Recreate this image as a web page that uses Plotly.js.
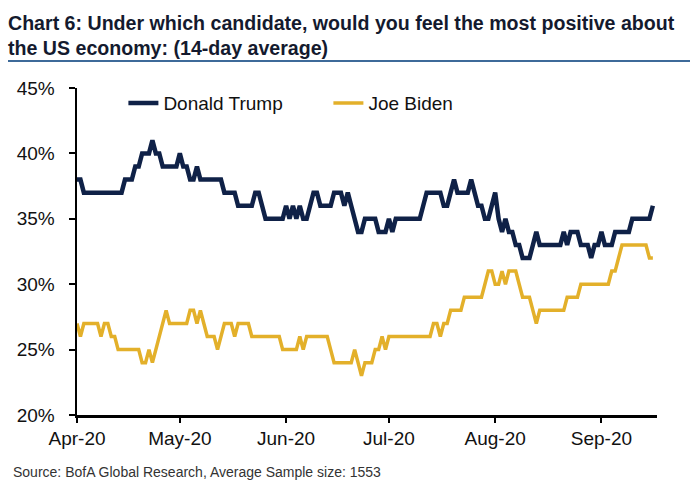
<!DOCTYPE html>
<html>
<head>
<meta charset="utf-8">
<script src="https://cdn.plot.ly/plotly-3.0.1.min.js"></script>
<style>html,body{margin:0;padding:0;background:#fff;}#chart{width:700px;height:492px;}</style>
</head>
<body>
<div id="chart"></div>
<script>
// Daily series, starting 1 April 2020 (14-day average, %)
const startDate = '2020-04-01';
const trumpValues = [38,38,37,37,37,37,37,37,37,37,37,37,37,37,
  38,38,38,39,39,40,40,40,41,40,40,
  39,39,39,39,39,40,39,39,38,38,39,
  38,38,38,38,38,38,38,37,37,37,37,
  36,36,36,36,36,37,37,36,35,35,35,35,35,35,
  36,35,36,35,36,35,35,36,37,37,
  36,36,36,36,37,37,37,36,37,36,
  35,34,34,35,35,35,35,34,34,34,
  35,34,35,35,35,35,35,35,35,35,
  36,37,37,37,37,37,36,36,37,38,
  37,37,37,37,38,37,36,36,35,35,
  36,37,35,34,35,34,34,33,33,32,
  32,32,33,34,33,33,33,33,33,33,
  33,34,33,34,34,34,33,33,33,32,
  33,33,34,33,33,33,34,34,34,34,
  34,35,35,35,35,35,35,36];
const bidenValues = [27,26,27,27,27,27,27,26,27,27,
  26,26,25,25,25,25,25,25,25,24,
  24,25,24,25,26,27,28,27,27,27,
  27,27,27,28,28,27,28,27,26,26,
  26,25,26,27,27,27,26,27,27,27,
  27,26,26,26,26,26,26,26,26,26,
  25,25,25,25,25,26,25,26,26,26,
  26,26,26,26,25,24,24,24,24,24,
  24,25,24,23,24,24,24,25,25,26,
  25,26,26,26,26,26,26,26,26,26,
  26,26,26,26,27,27,26,27,27,28,
  28,28,28,29,29,29,29,29,29,30,
  31,31,30,30,31,30,31,31,31,30,
  29,29,29,28,27,28,28,28,28,28,
  28,28,28,29,29,29,29,30,30,30,
  30,30,30,30,30,30,31,31,32,33,
  33,33,33,33,33,33,33,32,32];
const seriesNames = ['Donald Trump', 'Joe Biden'];
const yTickValues = [20, 25, 30, 35, 40, 45];
const yTickLabels = ['20%', '25%', '30%', '35%', '40%', '45%'];

function dayList(start, n) {
  const out = [];
  const d0 = new Date(start + 'T00:00:00Z');
  for (let i = 0; i < n; i++) {
    const d = new Date(d0.getTime() + i * 86400000);
    out.push(d.toISOString().slice(0, 10));
  }
  return out;
}
const dates = dayList(startDate, trumpValues.length);

const traces = [
  {x: dates, y: trumpValues, name: seriesNames[0], type: 'scatter', mode: 'lines',
   line: {color: '#0f2147', width: 4.5}},
  {x: dates, y: bidenValues, name: seriesNames[1], type: 'scatter', mode: 'lines',
   line: {color: '#e3b02a', width: 3.5}}
];

const layout = {
  width: 700, height: 492,
  margin: {l: 77, r: 43, t: 88, b: 77},
  paper_bgcolor: '#fff', plot_bgcolor: '#fff',
  font: {family: '"Liberation Sans", Arial, sans-serif', color: '#111', size: 19},
  title: {
    text: '<b>Chart 6: Under which candidate, would you feel the most positive about<br>the US economy: (14-day average)</b>',
    font: {family: '"Liberation Sans", Arial, sans-serif', size: 19.6, color: '#141a2e'},
    x: 8/700, xanchor: 'left', xref: 'container',
    y: 1 - 30/492, yanchor: 'top', yref: 'container'
  },
  showlegend: true,
  legend: {
    orientation: 'h', x: 0.08, xanchor: 'left', y: 1.012, yanchor: 'top',
    font: {size: 19, color: '#111'}, bgcolor: 'rgba(0,0,0,0)', entrywidth: 160
  },
  xaxis: {
    type: 'date', range: ['2020-04-01', '2020-09-17 05:00'],
    tick0: '2020-04-01', dtick: 'M1', tickformat: '%b-%y',
    showgrid: false, zeroline: false, showline: true, linecolor: '#000', linewidth: 2.5,
    ticks: 'outside', ticklen: 5, tickwidth: 2, tickcolor: '#000',
    tickfont: {size: 19, color: '#111'}
  },
  yaxis: {
    range: [20, 45], tickmode: 'array', tickvals: yTickValues, ticktext: yTickLabels,
    showgrid: false, zeroline: false, showline: true, linecolor: '#000', linewidth: 2.5,
    ticks: 'outside', ticklen: 6, tickwidth: 2, tickcolor: '#000',
    tickfont: {size: 19, color: '#111'}, ticklabelstandoff: 10
  },
  shapes: [
    {type: 'line', xref: 'paper', yref: 'paper', x0: (8-77)/580, x1: (690-77)/580,
     y0: (415-61)/327, y1: (415-61)/327, line: {color: '#3d6a99', width: 2}}
  ],
  annotations: [
    {xref: 'paper', yref: 'paper', x: (11-77)/580, y: (415-472)/327, xanchor: 'left', yanchor: 'middle',
     showarrow: false, text: 'Source: BofA Global Research, Average Sample size: 1553',
     font: {size: 14, color: '#333'}}
  ]
};

Plotly.newPlot('chart', traces, layout, {displayModeBar: false, staticPlot: true});
</script>
</body>
</html>
